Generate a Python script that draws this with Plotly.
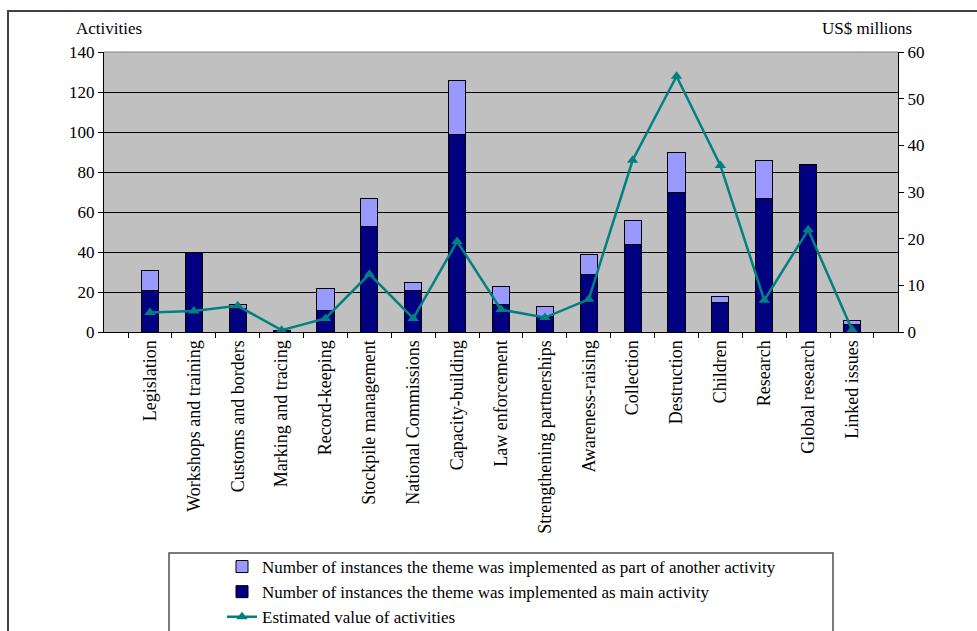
import plotly.graph_objects as go

# Themes of assistance activities
themes = [
    "Legislation", "Workshops and training", "Customs and borders",
    "Marking and tracing", "Record-keeping", "Stockpile management",
    "National Commissions", "Capacity-building", "Law enforcement",
    "Strengthening partnerships", "Awareness-raising", "Collection",
    "Destruction", "Children", "Research", "Global research", "Linked issues",
]

# Number of instances the theme was the main activity
main_activity = [21, 40, 12, 1, 11, 53, 21, 99, 14, 8, 29, 44, 70, 15, 67, 84, 4]

# Number of instances the theme was part of another activity
part_of_other = [10, 0, 2, 0, 11, 14, 4, 27, 9, 5, 10, 12, 20, 3, 19, 0, 2]

# Estimated value of activities, US$ millions
est_value = [4.2, 4.5, 5.6, 0.4, 2.9, 12.4, 2.9, 19.4, 4.8, 3.1, 7.0, 36.8,
             54.8, 35.7, 6.8, 21.9, 0.5]

FONT = "Liberation Serif"
W, H = 977, 631
L, R, T, B = 104, 79, 52, 299
PW, PH = W - L - R, H - T - B


def px_x(px):
    return (px - L) / PW


def px_y(py):
    return (H - B - py) / PH


fig = go.Figure()

fig.add_trace(go.Bar(
    x=themes, y=main_activity,
    name="Number of instances the theme was implemented as main activity",
    marker=dict(color="#000080", line=dict(color="#000000", width=1)),
    width=0.39, legendrank=2, legendgroup="b",
))
fig.add_trace(go.Bar(
    x=themes, y=part_of_other,
    name="Number of instances the theme was implemented as part of another activity",
    marker=dict(color="#9999FF", line=dict(color="#000000", width=1)),
    width=0.39, legendrank=1, legendgroup="a",
))
fig.add_trace(go.Scatter(
    x=themes, y=est_value, yaxis="y2", mode="lines+markers",
    name="Estimated value of activities",
    line=dict(color="#008080", width=2.5),
    marker=dict(symbol="triangle-up", size=10, color="#008080"),
    legendrank=3, legendgroup="c",
))

fig.update_layout(
    width=W, height=H,
    margin=dict(l=L, r=R, t=T, b=B, autoexpand=False),
    paper_bgcolor="white",
    plot_bgcolor="#C0C0C0",
    barmode="stack",
    font=dict(family=FONT, size=17, color="#000000"),
    xaxis=dict(
        type="category", tickangle=-90, showgrid=False,
        ticks="outside", tickson="boundaries", ticklen=5,
        tickcolor="#000000", linecolor="#000000", showline=True,
        tickfont=dict(family=FONT, size=18),
        automargin=False,
    ),
    yaxis=dict(
        range=[0, 140], dtick=20, ticks="outside", ticklen=5,
        tickcolor="#000000", showline=True, linecolor="#000000",
        gridcolor="#000000", gridwidth=1, zeroline=False,
        tickfont=dict(family=FONT, size=17), automargin=False,
    ),
    yaxis2=dict(
        range=[0, 60], dtick=10, overlaying="y", side="right",
        ticks="outside", ticklen=5, tickcolor="#000000",
        showline=True, linecolor="#000000", showgrid=False,
        zeroline=False, tickfont=dict(family=FONT, size=17),
        automargin=False,
    ),
    legend=dict(
        x=px_x(222), y=px_y(549), xanchor="left", yanchor="top",
        bgcolor="rgba(0,0,0,0)", borderwidth=0,
        traceorder="grouped", tracegroupgap=0,
        font=dict(family=FONT, size=17),
    ),
    showlegend=True,
)

# Axis captions
fig.add_annotation(text="Activities", x=px_x(109), y=px_y(28),
                   xref="paper", yref="paper",
                   xanchor="center", yanchor="middle",
                   showarrow=False, font=dict(family=FONT, size=17))
fig.add_annotation(text="US$ millions", x=px_x(867), y=px_y(28),
                   xref="paper", yref="paper",
                   xanchor="center", yanchor="middle",
                   showarrow=False, font=dict(family=FONT, size=17))

# Top border line of the plot area
fig.add_shape(type="line", xref="paper", yref="paper",
              x0=0, x1=1, y0=1, y1=1,
              line=dict(color="#808080", width=1))

# Legend frame
fig.add_shape(type="rect", xref="paper", yref="paper",
              x0=px_x(169), x1=px_x(833), y0=px_y(553), y1=px_y(660),
              line=dict(color="#505050", width=1.5))

# Outer chart frame
fig.add_shape(type="rect", xref="paper", yref="paper",
              x0=px_x(8), x1=px_x(1000), y0=px_y(11), y1=px_y(660),
              line=dict(color="#404040", width=2))

fig.write_html("out.html")
